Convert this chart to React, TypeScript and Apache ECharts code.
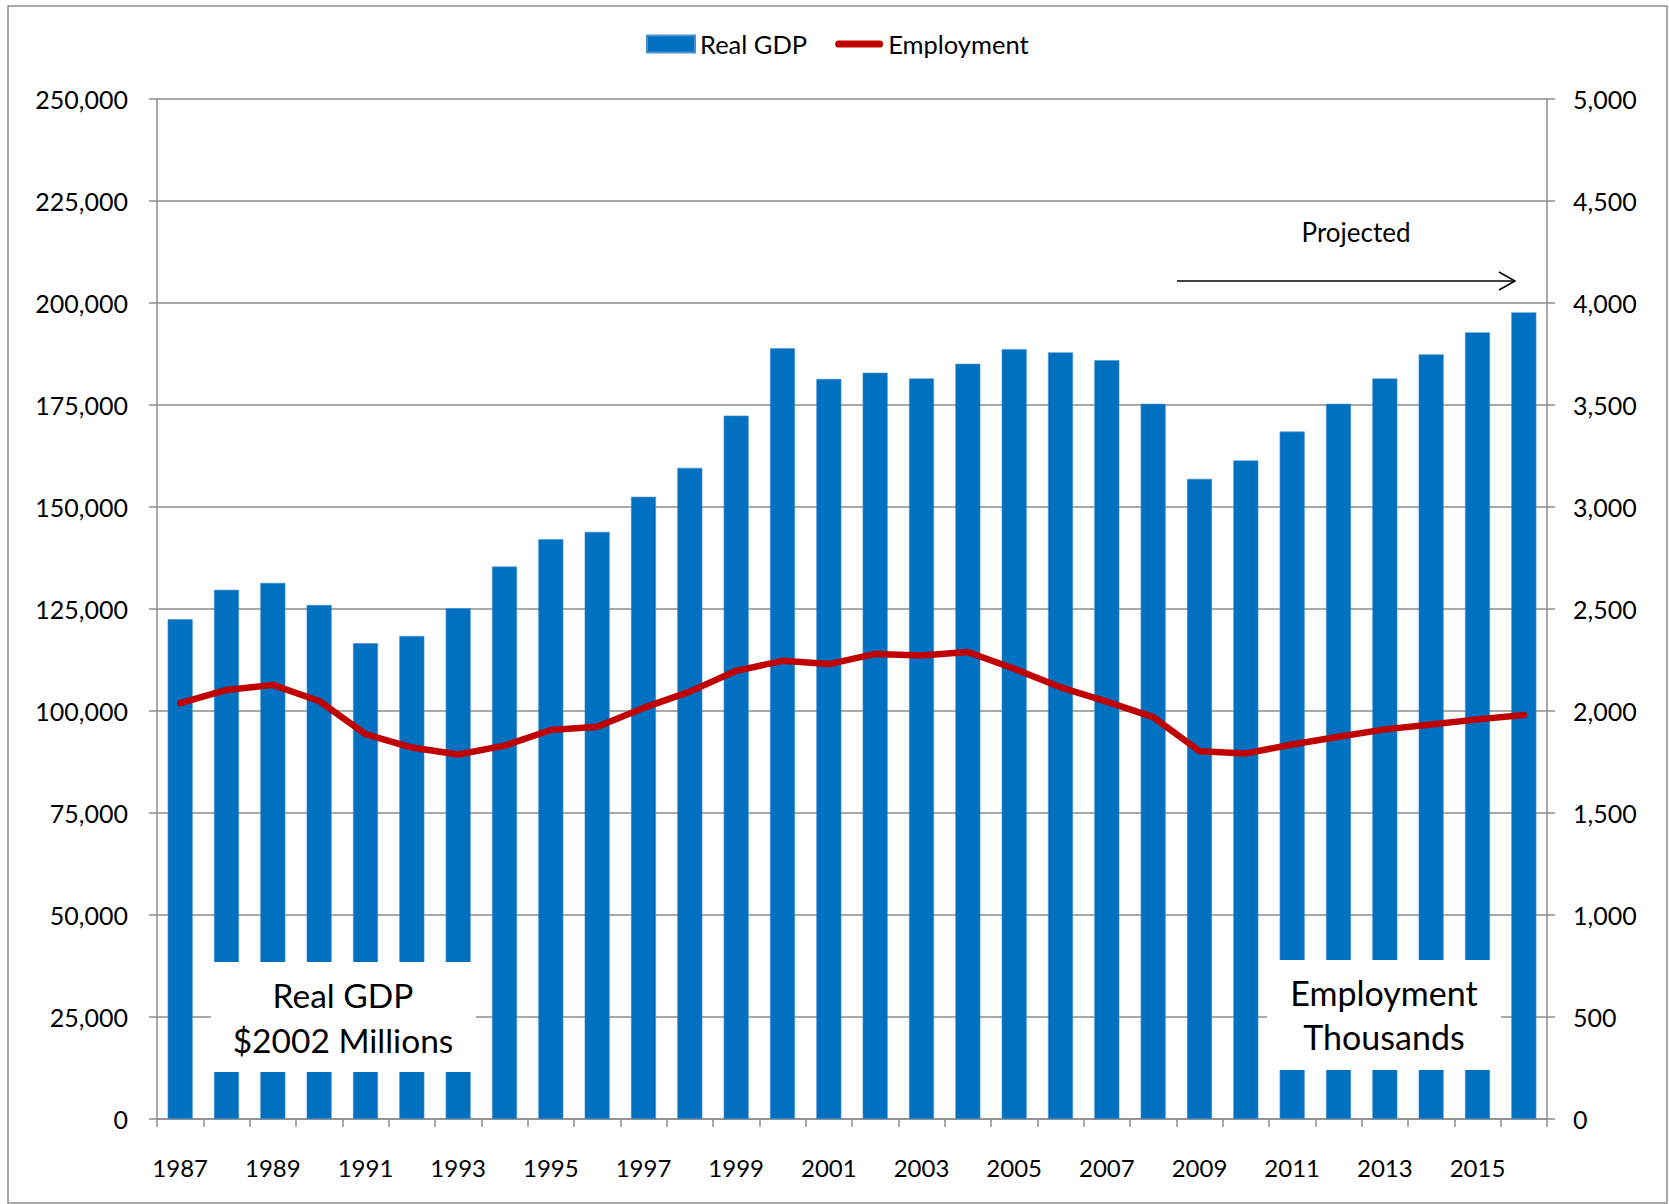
import React, { useEffect, useRef } from "react";
import * as echarts from "echarts";

const years = [
  "1987", "1988", "1989", "1990", "1991", "1992", "1993", "1994", "1995", "1996",
  "1997", "1998", "1999", "2000", "2001", "2002", "2003", "2004", "2005", "2006",
  "2007", "2008", "2009", "2010", "2011", "2012", "2013", "2014", "2015", "2016",
];

const realGdp = [
  122500, 129700, 131400, 126000, 116600, 118400, 125200, 135400, 142100, 143900,
  152500, 159600, 172400, 188900, 181400, 182900, 181500, 185100, 188700, 187900,
  186000, 175300, 156900, 161400, 168500, 175300, 181500, 187400, 192800, 197700,
];

const employment = [
  2038, 2103, 2128, 2049, 1887, 1821, 1787, 1830, 1907, 1923,
  2015, 2095, 2197, 2246, 2230, 2280, 2272, 2289, 2207, 2116,
  2046, 1970, 1803, 1792, 1836, 1874, 1910, 1934, 1959, 1980,
];

const leftTicks = { min: 0, max: 250000, interval: 25000 };
const rightTicks = { min: 0, max: 5000, interval: 500 };

const FONT = "Lato, 'Open Sans', sans-serif";
const GRAY = "#8c8c8c";

const fmt = (v: number) => v.toLocaleString("en-US");

export default function App() {
  const ref = useRef<HTMLDivElement>(null);

  useEffect(() => {
    if (!ref.current) return;
    const chart = echarts.init(ref.current, undefined, { renderer: "svg" });
    const option: any = {
      animation: false,
      backgroundColor: "#ffffff",
      textStyle: { fontFamily: FONT, color: "#000" },
      legend: {
        left: 641,
        top: 26,
        itemWidth: 48,
        itemHeight: 17,
        itemGap: 28,
        symbolKeepAspect: true,
        textStyle: { fontFamily: FONT, fontSize: 25.5, color: "#000" },
        data: [
          { name: "Real GDP", icon: "rect" },
          {
            name: "Employment",
            icon: "path://M4,0 L49,0 A4,4 0 0 1 49,8 L4,8 A4,4 0 0 1 4,0 Z",
            itemStyle: { color: "#c00000" },
          },
        ],
      },
      grid: { left: 157, right: 122, top: 99, bottom: 85, containLabel: false },
      xAxis: {
        type: "category",
        data: years,
        boundaryGap: true,
        axisLine: { lineStyle: { color: GRAY, width: 1.5 } },
        axisTick: {
          show: true,
          interval: 0,
          length: 8,
          alignWithLabel: false,
          lineStyle: { color: GRAY, width: 1.5 },
        },
        axisLabel: {
          interval: 1,
          margin: 36,
          fontSize: 24,
          fontFamily: FONT,
          color: "#000",
        },
      },
      yAxis: [
        {
          type: "value",
          min: leftTicks.min,
          max: leftTicks.max,
          interval: leftTicks.interval,
          axisLine: { show: true, lineStyle: { color: GRAY, width: 1.5 } },
          axisTick: { show: true, length: 8, lineStyle: { color: GRAY, width: 1.5 } },
          axisLabel: {
            margin: 29,
            fontSize: 25,
            fontFamily: FONT,
            color: "#000",
            formatter: (v: number) => fmt(v),
          },
          splitLine: { show: true, lineStyle: { color: GRAY, width: 1.5 } },
        },
        {
          type: "value",
          position: "right",
          min: rightTicks.min,
          max: rightTicks.max,
          interval: rightTicks.interval,
          axisLine: { show: true, lineStyle: { color: GRAY, width: 1.5 } },
          axisTick: { show: true, length: 8, lineStyle: { color: GRAY, width: 1.5 } },
          axisLabel: {
            margin: 26,
            fontSize: 25,
            fontFamily: FONT,
            color: "#000",
            formatter: (v: number) => fmt(v),
          },
          splitLine: { show: false },
        },
      ],
      series: [
        {
          name: "Real GDP",
          type: "bar",
          yAxisIndex: 0,
          data: realGdp,
          barWidth: 25,
          itemStyle: { color: "#0070c0", borderColor: "#4a90d0", borderWidth: 0.6 },
          z: 2,
        },
        {
          name: "Employment",
          type: "line",
          yAxisIndex: 1,
          data: employment,
          symbol: "none",
          showSymbol: false,
          lineStyle: { color: "#c00000", width: 6.5, cap: "round", join: "round" },
          itemStyle: { color: "#c00000" },
          z: 3,
        },
      ],
      graphic: [
        {
          type: "rect",
          z: 100,
          shape: { x: 8, y: 6, width: 1659, height: 1197 },
          style: { fill: "none", stroke: "#8c8c8c", lineWidth: 1.5 },
          silent: true,
        },
        {
          type: "rect",
          z: 100,
          shape: { x: 211, y: 962, width: 265, height: 110 },
          style: { fill: "#ffffff", stroke: "none" },
        },
        {
          type: "text",
          z: 101,
          x: 343,
          y: 995,
          style: {
            text: "Real GDP",
            fontFamily: FONT,
            fontSize: 33.5,
            fill: "#000",
            align: "center",
            verticalAlign: "middle",
          },
        },
        {
          type: "text",
          z: 101,
          x: 343,
          y: 1040,
          style: {
            text: "$2002 Millions",
            fontFamily: FONT,
            fontSize: 33.5,
            fill: "#000",
            align: "center",
            verticalAlign: "middle",
          },
        },
        {
          type: "rect",
          z: 100,
          shape: { x: 1267, y: 960, width: 234, height: 110 },
          style: { fill: "#ffffff", stroke: "none" },
        },
        {
          type: "text",
          z: 101,
          x: 1384,
          y: 992,
          style: {
            text: "Employment",
            fontFamily: FONT,
            fontSize: 34,
            fill: "#000",
            align: "center",
            verticalAlign: "middle",
          },
        },
        {
          type: "text",
          z: 101,
          x: 1384,
          y: 1036,
          style: {
            text: "Thousands",
            fontFamily: FONT,
            fontSize: 34,
            fill: "#000",
            align: "center",
            verticalAlign: "middle",
          },
        },
        {
          type: "text",
          z: 101,
          x: 1356,
          y: 232,
          style: {
            text: "Projected",
            fontFamily: FONT,
            fontSize: 26,
            fill: "#000",
            align: "center",
            verticalAlign: "middle",
          },
        },
        {
          type: "line",
          z: 101,
          shape: { x1: 1177, y1: 281, x2: 1515, y2: 281 },
          style: { stroke: "#000", lineWidth: 1.5 },
        },
        {
          type: "polyline",
          z: 101,
          shape: { points: [[1499, 272], [1515, 281], [1499, 290]] },
          style: { stroke: "#000", lineWidth: 1.5, fill: "none" },
        },
      ],
    };
    chart.setOption(option);
    return () => chart.dispose();
  }, []);

  return (
    <div
      ref={ref}
      style={{ position: "absolute", left: 0, top: 0, width: 1669, height: 1204 }}
    />
  );
}
